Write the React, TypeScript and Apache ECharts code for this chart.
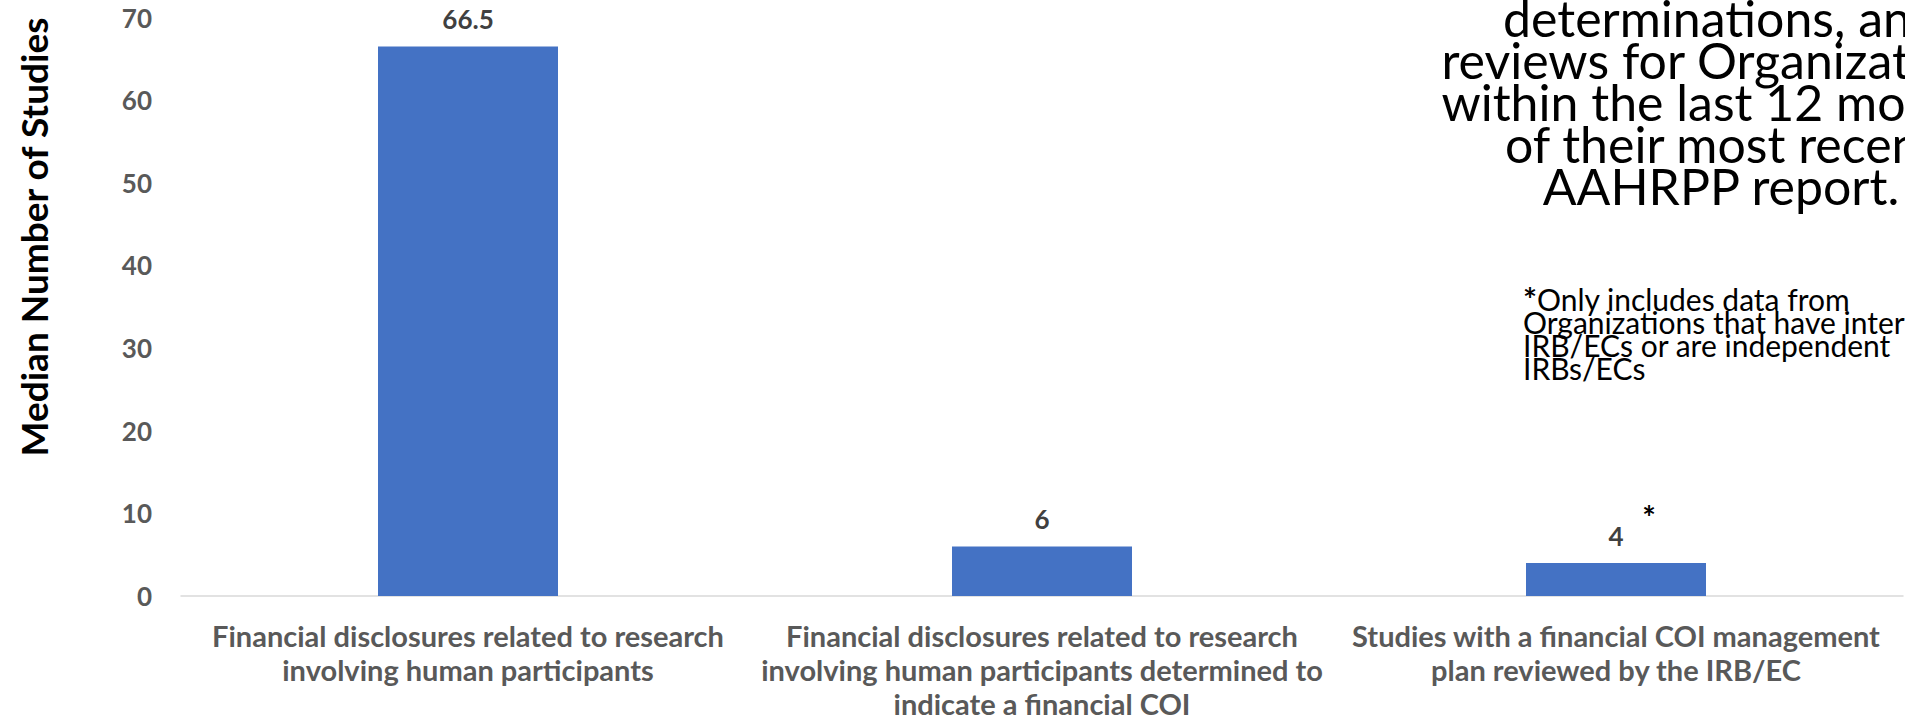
import React, { useEffect, useRef } from "react";
import * as echarts from "echarts";

const categories = [
  "Financial disclosures related to research\ninvolving human participants",
  "Financial disclosures related to research\ninvolving human participants determined to\nindicate a financial COI",
  "Studies with a financial COI management\nplan reviewed by the IRB/EC",
];
const values = [66.5, 6, 4];
const starredIndex = 2;
const yAxisTitle = "Median Number of Studies";
const titleLines = [
  "determinations, and",
  "reviews for Organizations",
  "within the last 12 months",
  "of their most recent",
  "AAHRPP report.",
];
const footnoteLines = [
  "{b|*}Only includes data from",
  "Organizations that have internal",
  "IRB/ECs or are independent",
  "IRBs/ECs",
];

export default function App() {
  const ref = useRef<HTMLDivElement>(null);
  useEffect(() => {
    document.body.style.margin = "0";
    const chart = echarts.init(ref.current!, null, { renderer: "svg" });
    const font = "Lato, 'Open Sans', sans-serif";
    chart.setOption({
      animation: false,
      backgroundColor: "#ffffff",
      grid: { left: 181, right: 2, top: 17.5, bottom: 127, containLabel: false },
      xAxis: {
        type: "category",
        data: categories,
        axisLine: { lineStyle: { color: "#d9d9d9", width: 1.5 } },
        axisTick: { show: false },
        axisLabel: {
          color: "#595959",
          fontFamily: font,
          fontWeight: "bold",
          fontSize: 29,
          lineHeight: 34,
          margin: 22,
          interval: 0,
        },
      },
      yAxis: {
        type: "value",
        min: 0,
        max: 70,
        interval: 10,
        splitLine: { show: false },
        axisLine: { show: false },
        axisTick: { show: false },
        axisLabel: {
          color: "#595959",
          fontFamily: font,
          fontWeight: "bold",
          fontSize: 26,
          margin: 29,
        },
      },
      series: [
        {
          type: "bar",
          data: values,
          barWidth: 180,
          itemStyle: { color: "#4472c4" },
          label: {
            show: true,
            position: "top",
            distance: 14,
            color: "#404040",
            fontFamily: font,
            fontWeight: "bold",
            fontSize: 26,
          },
        },
      ],
    });
    const p = chart.convertToPixel({ xAxisIndex: 0, yAxisIndex: 0 }, [starredIndex, values[starredIndex]]) as number[];
    chart.setOption({
      graphic: [
        {
          type: "text",
          x: 33,
          y: 237,
          rotation: Math.PI / 2,
          style: {
            text: yAxisTitle,
            fill: "#000000",
            font: `bold 37px ${font}`,
            textAlign: "center",
            textVerticalAlign: "middle",
          },
        },
        {
          type: "text",
          x: 1721,
          y: -3,
          style: {
            text: titleLines.join("\n"),
            fill: "#000000",
            font: `50px ${font}`,
            lineHeight: 42,
            textAlign: "center",
            textVerticalAlign: "top",
          },
        },
        {
          type: "text",
          x: 1523,
          y: 287,
          style: {
            text: footnoteLines.join("\n"),
            fill: "#000000",
            fontFamily: font,
            fontSize: 30,
            lineHeight: 23,
            textAlign: "left",
            textVerticalAlign: "top",
            rich: {
              b: { fontWeight: "bold", fontSize: 33, fontFamily: font, fill: "#000000", lineHeight: 23 },
            },
          },
        },
        {
          type: "text",
          x: p[0] + 33,
          y: p[1] - 45,
          style: {
            text: "*",
            fill: "#000000",
            font: `bold 32px ${font}`,
            textAlign: "center",
            textVerticalAlign: "middle",
          },
        },
      ],
    });
    return () => chart.dispose();
  }, []);
  return <div ref={ref} style={{ width: 1905, height: 723 }} />;
}
